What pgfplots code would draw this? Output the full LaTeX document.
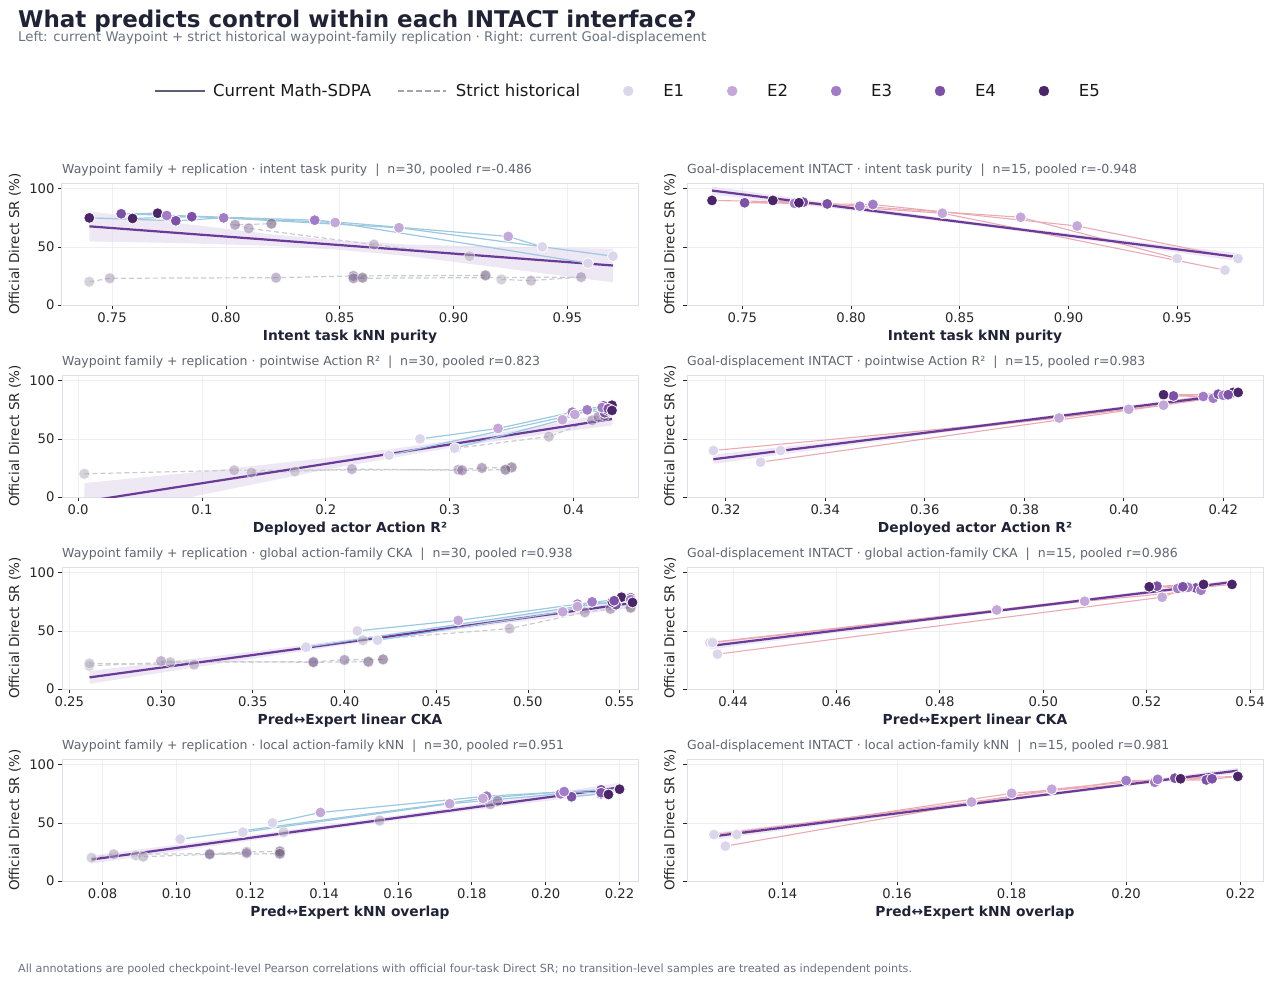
\documentclass[border=0pt]{standalone}
\usepackage{fontspec}
\setmainfont{DejaVu Sans}
\usepackage{pgfplots}
\pgfplotsset{compat=1.18}

\definecolor{navy}{HTML}{1F2335}
\definecolor{subc}{HTML}{6B7280}
\definecolor{ttlc}{HTML}{5F6470}
\definecolor{tickc}{HTML}{262626}
\definecolor{framec}{HTML}{DDE0E6}
\definecolor{gridc}{HTML}{EDEFF3}
\definecolor{E1}{HTML}{DCD6EC}
\definecolor{E2}{HTML}{C4A8DA}
\definecolor{E3}{HTML}{A27CC8}
\definecolor{E4}{HTML}{7D51A8}
\definecolor{E5}{HTML}{4B2569}
\definecolor{regc}{HTML}{6A3A98}
\definecolor{bandc}{HTML}{E2D8EE}
\definecolor{bluec}{HTML}{9CC8E0}
\definecolor{pinkc}{HTML}{EAAAB2}
\definecolor{histc}{HTML}{CACBD0}
\definecolor{legc}{HTML}{5B6078}
\definecolor{legd}{HTML}{A1A5AD}

\pgfplotsset{
  colormap={epochs}{color=(E1) color=(E2) color=(E3) color=(E4) color=(E5)},
  panel/.style={
    scale only axis, width=576pt, height=122pt,
    ymin=0, ymax=105, ytick={0,50,100},
    point meta min=1, point meta max=5,
    axis line style={draw=framec, line width=1pt},
    grid=major, major grid style={draw=gridc, line width=0.8pt},
    tick align=outside, xtick pos=bottom, ytick pos=left,
    major tick length=4pt,
    tick style={draw=tickc, line width=0.8pt},
    ticklabel style={font=\fontsize{13.2}{15}\selectfont, text=tickc},
    /pgf/number format/assume math mode=true,
    xticklabel style={/pgf/number format/fixed, /pgf/number format/fixed zerofill, /pgf/number format/precision=2},
    title style={at={(0,1)}, anchor=south west, inner sep=0pt, yshift=0pt, font=\fontsize{12.5}{15}\selectfont, text=ttlc},
    xlabel style={at={(axis description cs:0.5,-0.262)}, anchor=center, font=\fontsize{13.8}{16}\selectfont\bfseries, text=navy},
    ylabel style={at={(axis description cs:-0.0816,0.5)}, anchor=center, font=\fontsize{13.5}{16}\selectfont, text=tickc},
    ylabel={Official Direct SR (\%)},
  },
  rightpanel/.style={panel, yticklabels={,,},
    ylabel style={at={(axis description cs:-0.0295,0.5)}}},
  band/.style={fill=bandc, fill opacity=0.6, draw=none, forget plot},
  reg/.style={color=regc, line width=2.2pt, no marks, forget plot},
  pts/.style={scatter, point meta=explicit, mark=*, mark size=5.5pt,
    scatter/use mapped color={draw=white, fill=mapped color},
    mark options={line width=0.8pt, solid}, forget plot},
  cur/.style={pts, color=bluec, line width=1.2pt},
  gd/.style={pts, color=pinkc, line width=1.1pt},
  hist/.style={scatter, point meta=explicit, mark=*, mark size=5.5pt,
    scatter/use mapped color={draw=white, fill=mapped color!55!gray},
    mark options={solid, line width=0.8pt, opacity=0.55},
    color=histc, line width=1.2pt, dash pattern=on 5pt off 3pt, forget plot},
}

\begin{document}
\begin{tikzpicture}
\useasboundingbox (0pt,0pt) rectangle (1280pt,-983pt);

\node[anchor=base west, inner sep=0pt, font=\fontsize{23}{27}\selectfont\bfseries, text=navy]
  at (18pt,-27pt) {What predicts control within each INTACT interface?};
\node[anchor=base west, inner sep=0pt, font=\fontsize{13.3}{16}\selectfont, text=subc]
  at (18pt,-41.5pt) {Left: current Waypoint + strict historical waypoint-family replication · Right: current Goal-displacement};
\node[anchor=base west, inner sep=0pt, font=\fontsize{11.2}{13}\selectfont, text=subc]
  at (18pt,-972pt) {All annotations are pooled checkpoint-level Pearson correlations with official four-task Direct SR; no transition-level samples are treated as independent points.};

% ---------- row 1 : intent task purity ----------
\begin{axis}[panel, at={(62pt,-305pt)}, anchor=south west,
  xmin=0.728, xmax=0.981, xtick={0.75,0.80,0.85,0.90,0.95},
  title={Waypoint family + replication · intent task purity~~|~~n=30, pooled r=-0.486},
  xlabel={Intent task kNN purity},
  legend columns=7, legend cell align=left,
  legend style={at={(0.981,1.754)}, anchor=center, draw=none, fill=none, inner sep=0pt,
    font=\fontsize{16.5}{19}\selectfont, text=black!90, nodes={inner sep=0pt},
    /tikz/every even column/.append style={column sep=26pt}}]
\addplot[band] coordinates {(0.740,80.7) (0.78,70.3) (0.82,60.9) (0.85,55.5) (0.88,52.1) (0.92,50.2) (0.970,48.5)
  (0.970,19.5) (0.92,32.2) (0.88,42.1) (0.85,47.5) (0.82,50.9) (0.78,53.3) (0.740,54.7)};
\addplot[hist] coordinates {(0.740,20)[1] (0.749,23)[2] (0.822,23.5)[3] (0.856,25)[4] (0.914,25.5)[5]};
\addplot[hist] coordinates {(0.921,22)[1] (0.934,21)[2] (0.956,24)[3] (0.856,23)[4] (0.860,23.5)[5]};
\addplot[hist] coordinates {(0.907,42)[1] (0.865,52)[2] (0.810,66)[3] (0.804,69)[4] (0.820,70)[5]};
\addplot[reg] coordinates {(0.740,67.7) (0.970,34)};
\addplot[cur] coordinates {(0.939,50)[1] (0.924,59)[2] (0.839,73)[3] (0.754,78.5)[4] (0.770,79)[5]};
\addplot[cur] coordinates {(0.970,42)[1] (0.876,66.5)[2] (0.799,75)[3] (0.778,72.5)[4] (0.740,75)[5]};
\addplot[cur] coordinates {(0.959,36)[1] (0.848,71)[2] (0.774,77)[3] (0.785,76)[4] (0.759,74.5)[5]};
\addlegendimage{legend image code/.code={\path[draw=none] (0pt,0pt) -- (58pt,0pt); \draw[line width=2pt, color=legc] (0pt,0pt) -- (50pt,0pt);}}
\addlegendentry{Current Math-SDPA}
\addlegendimage{legend image code/.code={\path[draw=none] (0pt,0pt) -- (58pt,0pt); \draw[line width=1.6pt, color=legd, dash pattern=on 6pt off 3pt] (0pt,0pt) -- (48pt,0pt);}}
\addlegendentry{Strict historical}
\addlegendimage{legend image code/.code={\path[draw=none] (0pt,0pt) -- (57pt,0pt); \fill[E1] (22pt,0pt) circle (5pt);}}
\addlegendentry{E1}
\addlegendimage{legend image code/.code={\path[draw=none] (0pt,0pt) -- (57pt,0pt); \fill[E2] (22pt,0pt) circle (5pt);}}
\addlegendentry{E2}
\addlegendimage{legend image code/.code={\path[draw=none] (0pt,0pt) -- (57pt,0pt); \fill[E3] (22pt,0pt) circle (5pt);}}
\addlegendentry{E3}
\addlegendimage{legend image code/.code={\path[draw=none] (0pt,0pt) -- (57pt,0pt); \fill[E4] (22pt,0pt) circle (5pt);}}
\addlegendentry{E4}
\addlegendimage{legend image code/.code={\path[draw=none] (0pt,0pt) -- (57pt,0pt); \fill[E5] (22pt,0pt) circle (5pt);}}
\addlegendentry{E5}
\end{axis}

\begin{axis}[rightpanel, at={(687pt,-305pt)}, anchor=south west,
  xmin=0.7245, xmax=0.9895, xtick={0.75,0.80,0.85,0.90,0.95},
  title={Goal-displacement INTACT · intent task purity~~|~~n=15, pooled r=-0.948},
  xlabel={Intent task kNN purity}]
\addplot[band] coordinates {(0.736,102) (0.80,85.4) (0.86,70.7) (0.92,57) (0.978,44.8)
  (0.978,37.8) (0.92,53) (0.86,67.7) (0.80,81.4) (0.736,95)};
\addplot[gd] coordinates {(0.978,40)[1] (0.904,68)[2] (0.810,86.5)[3] (0.789,87)[4] (0.764,90)[5]};
\addplot[gd] coordinates {(0.950,40)[1] (0.878,75.5)[2] (0.804,85)[3] (0.778,88.5)[4] (0.736,90)[5]};
\addplot[gd] coordinates {(0.972,30)[1] (0.842,79)[2] (0.774,87.5)[3] (0.751,88)[4] (0.776,88)[5]};
\addplot[reg] coordinates {(0.736,98.5) (0.978,41.3)};
\addplot[pts, only marks] coordinates {(0.804,85)[3] (0.810,86.5)[3] (0.789,87)[4]};
\end{axis}

% ---------- row 2 : pointwise action R2 ----------
\begin{axis}[panel, at={(62pt,-497pt)}, anchor=south west,
  xmin=-0.013, xmax=0.452, xtick={0,0.1,0.2,0.3,0.4},
  xticklabel style={/pgf/number format/precision=1},
  title={Waypoint family + replication · pointwise Action R²~~|~~n=30, pooled r=0.823},
  xlabel={Deployed actor Action R²}]
\addplot[band] coordinates {(0.005,12) (0.1,21.9) (0.2,33.6) (0.3,48.3) (0.38,62.6) (0.431,72.6)
  (0.431,61.6) (0.38,54.6) (0.3,42.3) (0.2,23.6) (0.1,1.9) (0.005,-20)};
\addplot[hist] coordinates {(0.005,20)[1] (0.126,23)[2] (0.307,23.5)[3] (0.326,25)[4] (0.350,25.5)[5]};
\addplot[hist] coordinates {(0.175,22)[1] (0.140,21)[2] (0.221,24)[3] (0.310,23)[4] (0.345,23.5)[5]};
\addplot[hist] coordinates {(0.305,42)[1] (0.380,52)[2] (0.415,66)[3] (0.420,69)[4] (0.425,70)[5]};
\addplot[reg] coordinates {(0.005,-4) (0.431,67.1)};
\addplot[cur] coordinates {(0.276,50)[1] (0.339,59)[2] (0.399,73)[3] (0.424,78.5)[4] (0.431,79)[5]};
\addplot[cur] coordinates {(0.304,42)[1] (0.391,66.5)[2] (0.411,75)[3] (0.425,72.5)[4] (0.427,75)[5]};
\addplot[cur] coordinates {(0.251,36)[1] (0.401,71)[2] (0.423,77)[3] (0.428,76)[4] (0.431,74.5)[5]};
\end{axis}

\begin{axis}[rightpanel, at={(687pt,-497pt)}, anchor=south west,
  xmin=0.3122, xmax=0.428, xtick={0.32,0.34,0.36,0.38,0.40,0.42},
  title={Goal-displacement INTACT · pointwise Action R²~~|~~n=15, pooled r=0.983},
  xlabel={Deployed actor Action R²}]
\addplot[band] coordinates {(0.3175,36.5) (0.345,49.7) (0.37,62.1) (0.395,75.5) (0.423,91)
  (0.423,87) (0.395,72.5) (0.37,59.1) (0.345,44.7) (0.3175,28.5)};
\addplot[gd] coordinates {(0.3175,40)[1] (0.387,68)[2] (0.416,86.5)[3] (0.410,87)[4] (0.422,90)[5]};
\addplot[gd] coordinates {(0.331,40)[1] (0.401,75.5)[2] (0.418,85)[3] (0.419,88.5)[4] (0.423,90)[5]};
\addplot[gd] coordinates {(0.327,30)[1] (0.408,79)[2] (0.420,87.5)[3] (0.421,88)[4] (0.408,88)[5]};
\addplot[reg] coordinates {(0.3175,32.5) (0.423,89)};
\addplot[pts, only marks] coordinates {(0.387,68)[2] (0.401,75.5)[2] (0.408,79)[2]};
\end{axis}

% ---------- row 3 : global CKA ----------
\begin{axis}[panel, at={(62pt,-689pt)}, anchor=south west,
  xmin=0.246, xmax=0.560, xtick={0.25,0.30,0.35,0.40,0.45,0.50,0.55},
  title={Waypoint family + replication · global action-family CKA~~|~~n=30, pooled r=0.938},
  xlabel={Pred↔Expert linear CKA}]
\addplot[band] coordinates {(0.261,15.5) (0.33,28.4) (0.40,42.3) (0.47,57.4) (0.557,78)
  (0.557,70) (0.47,53) (0.40,37.9) (0.33,21.4) (0.261,4.5)};
\addplot[hist] coordinates {(0.261,20)[1] (0.305,23)[2] (0.383,23.5)[3] (0.400,25)[4] (0.421,25.5)[5]};
\addplot[hist] coordinates {(0.261,22)[1] (0.318,21)[2] (0.300,24)[3] (0.383,23)[4] (0.413,23.5)[5]};
\addplot[hist] coordinates {(0.410,42)[1] (0.490,52)[2] (0.531,66)[3] (0.545,69)[4] (0.556,70)[5]};
\addplot[reg] coordinates {(0.261,10) (0.557,74)};
\addplot[cur] coordinates {(0.407,50)[1] (0.462,59)[2] (0.527,73)[3] (0.556,78.5)[4] (0.551,79)[5]};
\addplot[cur] coordinates {(0.418,42)[1] (0.519,66.5)[2] (0.535,75)[3] (0.548,72.5)[4] (0.546,75)[5]};
\addplot[cur] coordinates {(0.379,36)[1] (0.527,71)[2] (0.556,77)[3] (0.547,76)[4] (0.557,74.5)[5]};
\end{axis}

\begin{axis}[rightpanel, at={(687pt,-689pt)}, anchor=south west,
  xmin=0.4311, xmax=0.5425, xtick={0.44,0.46,0.48,0.50,0.52,0.54},
  title={Goal-displacement INTACT · global action-family CKA~~|~~n=15, pooled r=0.986},
  xlabel={Pred↔Expert linear CKA}]
\addplot[band] coordinates {(0.4355,40) (0.46,52.3) (0.485,65.5) (0.51,79.1) (0.5365,94)
  (0.5365,90) (0.51,76.1) (0.485,62.5) (0.46,48.3) (0.4355,34)};
\addplot[gd] coordinates {(0.4355,40)[1] (0.491,68)[2] (0.526,86.5)[3] (0.5295,87)[4] (0.5365,90)[5]};
\addplot[gd] coordinates {(0.436,40)[1] (0.508,75.5)[2] (0.5305,85)[3] (0.522,88.5)[4] (0.531,90)[5]};
\addplot[gd] coordinates {(0.437,30)[1] (0.523,79)[2] (0.528,87.5)[3] (0.527,88)[4] (0.5205,88)[5]};
\addplot[reg] coordinates {(0.4355,37) (0.5365,92)};
\addplot[pts, only marks] coordinates {(0.491,68)[2] (0.508,75.5)[2]};
\end{axis}

% ---------- row 4 : local kNN ----------
\begin{axis}[panel, at={(62pt,-881pt)}, anchor=south west,
  xmin=0.069, xmax=0.225, xtick={0.08,0.10,0.12,0.14,0.16,0.18,0.20,0.22},
  title={Waypoint family + replication · local action-family kNN~~|~~n=30, pooled r=0.951},
  xlabel={Pred↔Expert kNN overlap}]
\addplot[band] coordinates {(0.077,22) (0.11,35.3) (0.15,52.2) (0.19,70) (0.220,84.5)
  (0.220,76.5) (0.19,65) (0.15,48.2) (0.11,30.3) (0.077,15)};
\addplot[hist] coordinates {(0.077,20)[1] (0.083,23)[2] (0.109,23.5)[3] (0.119,25)[4] (0.128,25.5)[5]};
\addplot[hist] coordinates {(0.089,22)[1] (0.091,21)[2] (0.119,24)[3] (0.109,23)[4] (0.128,23.5)[5]};
\addplot[hist] coordinates {(0.129,42)[1] (0.155,52)[2] (0.185,66)[3] (0.187,69)[4] (0.183,70)[5]};
\addplot[reg] coordinates {(0.077,18.5) (0.220,80.5)};
\addplot[cur] coordinates {(0.126,50)[1] (0.139,59)[2] (0.184,73)[3] (0.215,78.5)[4] (0.220,79)[5]};
\addplot[cur] coordinates {(0.118,42)[1] (0.174,66.5)[2] (0.204,75)[3] (0.207,72.5)[4] (0.215,75)[5]};
\addplot[cur] coordinates {(0.101,36)[1] (0.183,71)[2] (0.205,77)[3] (0.215,76)[4] (0.217,74.5)[5]};
\end{axis}

\begin{axis}[rightpanel, at={(687pt,-881pt)}, anchor=south west,
  xmin=0.1233, xmax=0.2239, xtick={0.14,0.16,0.18,0.20,0.22},
  title={Goal-displacement INTACT · local action-family kNN~~|~~n=15, pooled r=0.981},
  xlabel={Pred↔Expert kNN overlap}]
\addplot[band] coordinates {(0.128,41.5) (0.15,54.1) (0.175,69) (0.20,84.5) (0.2195,97.5)
  (0.2195,92.5) (0.20,81.5) (0.175,66) (0.15,50.1) (0.128,35.5)};
\addplot[gd] coordinates {(0.128,40)[1] (0.173,68)[2] (0.200,86.5)[3] (0.214,87)[4] (0.2195,90)[5]};
\addplot[gd] coordinates {(0.132,40)[1] (0.180,75.5)[2] (0.205,85)[3] (0.2085,88.5)[4] (0.2195,90)[5]};
\addplot[gd] coordinates {(0.130,30)[1] (0.187,79)[2] (0.2055,87.5)[3] (0.215,88)[4] (0.2095,88)[5]};
\addplot[reg] coordinates {(0.128,38.5) (0.2195,95)};
\addplot[pts, only marks] coordinates {(0.173,68)[2] (0.180,75.5)[2] (0.187,79)[2]};
\end{axis}
\end{tikzpicture}
\end{document}
